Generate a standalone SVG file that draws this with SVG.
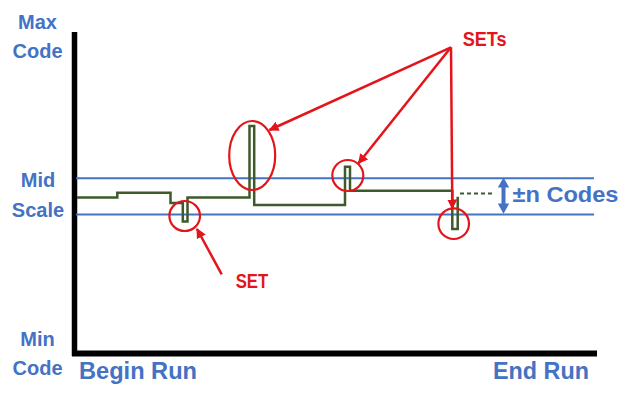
<svg xmlns="http://www.w3.org/2000/svg" width="635" height="402" viewBox="0 0 635 402">
  <defs>
    <style>
      .lbl { font-family: "Liberation Sans", Arial, sans-serif; font-weight: bold; fill: #4472C4; }
      .red { font-family: "Liberation Sans", Arial, sans-serif; font-weight: bold; fill: #E3151B; }
      .guide { stroke: #4472C4; stroke-width: 2; fill: none; }
      .wave { stroke: #3E5A2A; stroke-width: 2.5; fill: none; stroke-linejoin: miter; }
      .ring { stroke: #E3151B; stroke-width: 2.2; fill: none; }
      .conn { stroke: #E3151B; stroke-width: 2.5; fill: none; }
    </style>
    <marker id="ah" viewBox="0 0 10 10" refX="9" refY="5" markerWidth="4" markerHeight="4" markerUnits="strokeWidth" orient="auto">
      <path d="M0,0 L10,5 L0,10 z" fill="#E3151B"/>
    </marker>
  </defs>
  <rect width="635" height="402" fill="#FFFFFF"/>

  <g id="axes">
    <line x1="74.5" y1="32" x2="74.5" y2="356" stroke="#000" stroke-width="5.5"/>
    <line x1="72" y1="353.5" x2="597" y2="353.5" stroke="#000" stroke-width="6"/>
  </g>

  <g id="guides">
    <line class="guide" x1="76" y1="178.3" x2="594" y2="178.3"/>
    <line class="guide" x1="76" y1="214.5" x2="594" y2="214.5"/>
  </g>

  <g id="waveform">
    <path class="wave" d="M77,197.5 H117.3 V192.8 H170.5 V203 H182.8 V221.5 H187.5 V197.5 H249.5 V126 H254.2 V205 H345 V166.7 H350 V190.7 H452.3 V229 H457.7 V196.7"/>
    <line x1="460" y1="193.5" x2="492" y2="193.5" stroke="#3E5A2A" stroke-width="2" stroke-dasharray="4 3"/>
  </g>

  <g id="range-arrow">
    <polygon points="503.5,177.5 509.2,187.5 505.5,187.5 505.5,203.5 509.2,203.5 503.5,213.8 497.8,203.5 501.5,203.5 501.5,187.5 497.8,187.5" fill="#4472C4"/>
  </g>

  <g id="labels">
    <text class="lbl" x="37.5" y="29.3" font-size="20" text-anchor="middle">Max</text>
    <text class="lbl" x="37.5" y="58.3" font-size="20" text-anchor="middle">Code</text>
    <text class="lbl" x="38" y="187.3" font-size="20" text-anchor="middle">Mid</text>
    <text class="lbl" x="38" y="216.7" font-size="20" text-anchor="middle">Scale</text>
    <text class="lbl" x="37.5" y="345.7" font-size="20" text-anchor="middle">Min</text>
    <text class="lbl" x="37.5" y="375" font-size="20" text-anchor="middle">Code</text>
    <text class="lbl" x="79" y="379" font-size="24" textLength="118" lengthAdjust="spacingAndGlyphs">Begin Run</text>
    <text class="lbl" x="493" y="379.3" font-size="24" textLength="96" lengthAdjust="spacingAndGlyphs">End Run</text>
    <text class="lbl" x="512.5" y="202.3" font-size="22" textLength="106" lengthAdjust="spacingAndGlyphs">±n Codes</text>
  </g>

  <g id="set-single">
    <ellipse class="ring" cx="184.7" cy="216" rx="15.3" ry="15"/>
    <text class="red" x="235.7" y="288.3" font-size="21" textLength="32.6" lengthAdjust="spacingAndGlyphs">SET</text>
  </g>

  <g id="sets-group">
    <ellipse class="ring" cx="252.2" cy="155.5" rx="23" ry="34.5"/>
    <ellipse class="ring" cx="347.8" cy="175.5" rx="15.5" ry="15.5"/>
    <ellipse class="ring" cx="453.7" cy="223.7" rx="15.3" ry="15.3"/>
    <text class="red" x="462.7" y="45.7" font-size="20" textLength="44" lengthAdjust="spacingAndGlyphs">SETs</text>
  </g>

  <g id="connectors">
    <line class="conn" x1="221.7" y1="274.3" x2="197" y2="229" marker-end="url(#ah)"/>
    <line class="conn" x1="451" y1="47.3" x2="269.5" y2="130" marker-end="url(#ah)"/>
    <line class="conn" x1="451" y1="47.3" x2="358.5" y2="163.3" marker-end="url(#ah)"/>
    <line class="conn" x1="451" y1="47.3" x2="452.3" y2="208.5" marker-end="url(#ah)"/>
  </g>
</svg>
